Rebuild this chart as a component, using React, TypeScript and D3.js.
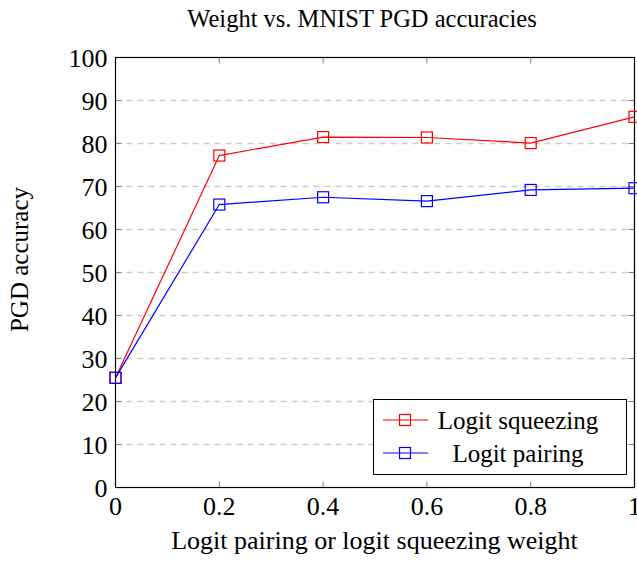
import { useEffect, useRef } from 'react';
import * as d3 from 'd3';

const weights = [0, 0.2, 0.4, 0.6, 0.8, 1.0];
const squeezing = [25.5, 77.2, 81.5, 81.4, 80.1, 86.2];
const pairing = [25.5, 65.8, 67.5, 66.6, 69.2, 69.6];
const xTicks = [0, 0.2, 0.4, 0.6, 0.8, 1];
const yTicks = [0, 10, 20, 30, 40, 50, 60, 70, 80, 90, 100];

const series = [
  { name: 'Logit squeezing', values: squeezing, color: '#ff0000' },
  { name: 'Logit pairing', values: pairing, color: '#0000ff' },
];

export default function App() {
  const svgRef = useRef<SVGSVGElement>(null);

  useEffect(() => {
    if (!svgRef.current) return;
    const svg = d3.select(svgRef.current);
    svg.selectAll('*').remove();

    const font = '"Liberation Serif", "Times New Roman", serif';
    const left = 115.5, right = 634.5, top = 57.5, bottom = 487.5;

    const x = d3.scaleLinear().domain([0, 1]).range([left, right]);
    const y = d3.scaleLinear().domain([0, 100]).range([bottom, top]);

    // title
    svg.append('text')
      .attr('x', 362)
      .attr('y', 27)
      .attr('text-anchor', 'middle')
      .style('font-family', font)
      .style('font-size', '24.5px')
      .text('Weight vs. MNIST PGD accuracies');

    // grid lines
    yTicks.filter(v => v > 0 && v < 100).forEach(v => {
      svg.append('line')
        .attr('x1', left).attr('x2', right)
        .attr('y1', y(v)).attr('y2', y(v))
        .style('stroke', '#cccccc')
        .style('stroke-width', 1.3)
        .style('stroke-dasharray', '6,5');
    });

    // tick marks + labels
    yTicks.forEach(v => {
      svg.append('line')
        .attr('x1', left).attr('x2', left + 6)
        .attr('y1', y(v)).attr('y2', y(v))
        .style('stroke', '#808080');
      svg.append('line')
        .attr('x1', right - 6).attr('x2', right)
        .attr('y1', y(v)).attr('y2', y(v))
        .style('stroke', '#808080');
      svg.append('text')
        .attr('x', left - 8)
        .attr('y', y(v) + 9)
        .attr('text-anchor', 'end')
        .style('font-family', font)
        .style('font-size', '26px')
        .text(v);
    });
    xTicks.forEach(v => {
      svg.append('line')
        .attr('x1', x(v)).attr('x2', x(v))
        .attr('y1', bottom).attr('y2', bottom - 6)
        .style('stroke', '#808080');
      svg.append('line')
        .attr('x1', x(v)).attr('x2', x(v))
        .attr('y1', top).attr('y2', top + 6)
        .style('stroke', '#808080');
      svg.append('text')
        .attr('x', x(v))
        .attr('y', 515)
        .attr('text-anchor', 'middle')
        .style('font-family', font)
        .style('font-size', '26px')
        .text(v);
    });

    // frame
    svg.append('rect')
      .attr('x', left).attr('y', top)
      .attr('width', right - left).attr('height', bottom - top)
      .style('fill', 'none')
      .style('stroke', '#000')
      .style('stroke-width', 1.2);

    // axis labels
    svg.append('text')
      .attr('x', 374.5)
      .attr('y', 549)
      .attr('text-anchor', 'middle')
      .style('font-family', font)
      .style('font-size', '26px')
      .text('Logit pairing or logit squeezing weight');

    svg.append('text')
      .attr('transform', 'translate(28,259.5) rotate(-90)')
      .attr('text-anchor', 'middle')
      .style('font-family', font)
      .style('font-size', '25px')
      .text('PGD accuracy');

    // series
    const line = d3.line<number>()
      .x((_, i) => x(weights[i]))
      .y(d => y(d));

    series.forEach(s => {
      svg.append('path')
        .datum(s.values)
        .attr('d', line)
        .style('fill', 'none')
        .style('stroke', s.color)
        .style('stroke-width', 1.2);
      svg.selectAll(null)
        .data(s.values)
        .enter()
        .append('rect')
        .attr('x', (_, i) => x(weights[i]) - 5.5)
        .attr('y', d => y(d) - 5.5)
        .attr('width', 11)
        .attr('height', 11)
        .style('fill', 'none')
        .style('stroke', s.color)
        .style('stroke-width', 1.2);
    });

    // legend
    const lx = 373.5, ly = 399.5, lw = 253, lh = 75;
    svg.append('rect')
      .attr('x', lx).attr('y', ly)
      .attr('width', lw).attr('height', lh)
      .style('fill', '#fff')
      .style('stroke', '#000')
      .style('stroke-width', 1);
    series.forEach((s, i) => {
      const cy = 420 + i * 33;
      svg.append('line')
        .attr('x1', 383).attr('x2', 428)
        .attr('y1', cy).attr('y2', cy)
        .style('stroke', s.color)
        .style('stroke-width', 1.2);
      svg.append('rect')
        .attr('x', 405 - 5.5).attr('y', cy - 5.5)
        .attr('width', 11).attr('height', 11)
        .style('fill', 'none')
        .style('stroke', s.color)
        .style('stroke-width', 1.2);
      svg.append('text')
        .attr('x', 518)
        .attr('y', cy + 8.5)
        .attr('text-anchor', 'middle')
        .style('font-family', font)
        .style('font-size', '25px')
        .text(s.name);
    });
  }, []);

  return (
    <div style={{ position: 'absolute', left: 0, top: 0 }}>
      <svg ref={svgRef} width={637} height={561} style={{ display: 'block', background: '#fff' }} />
    </div>
  );
}
